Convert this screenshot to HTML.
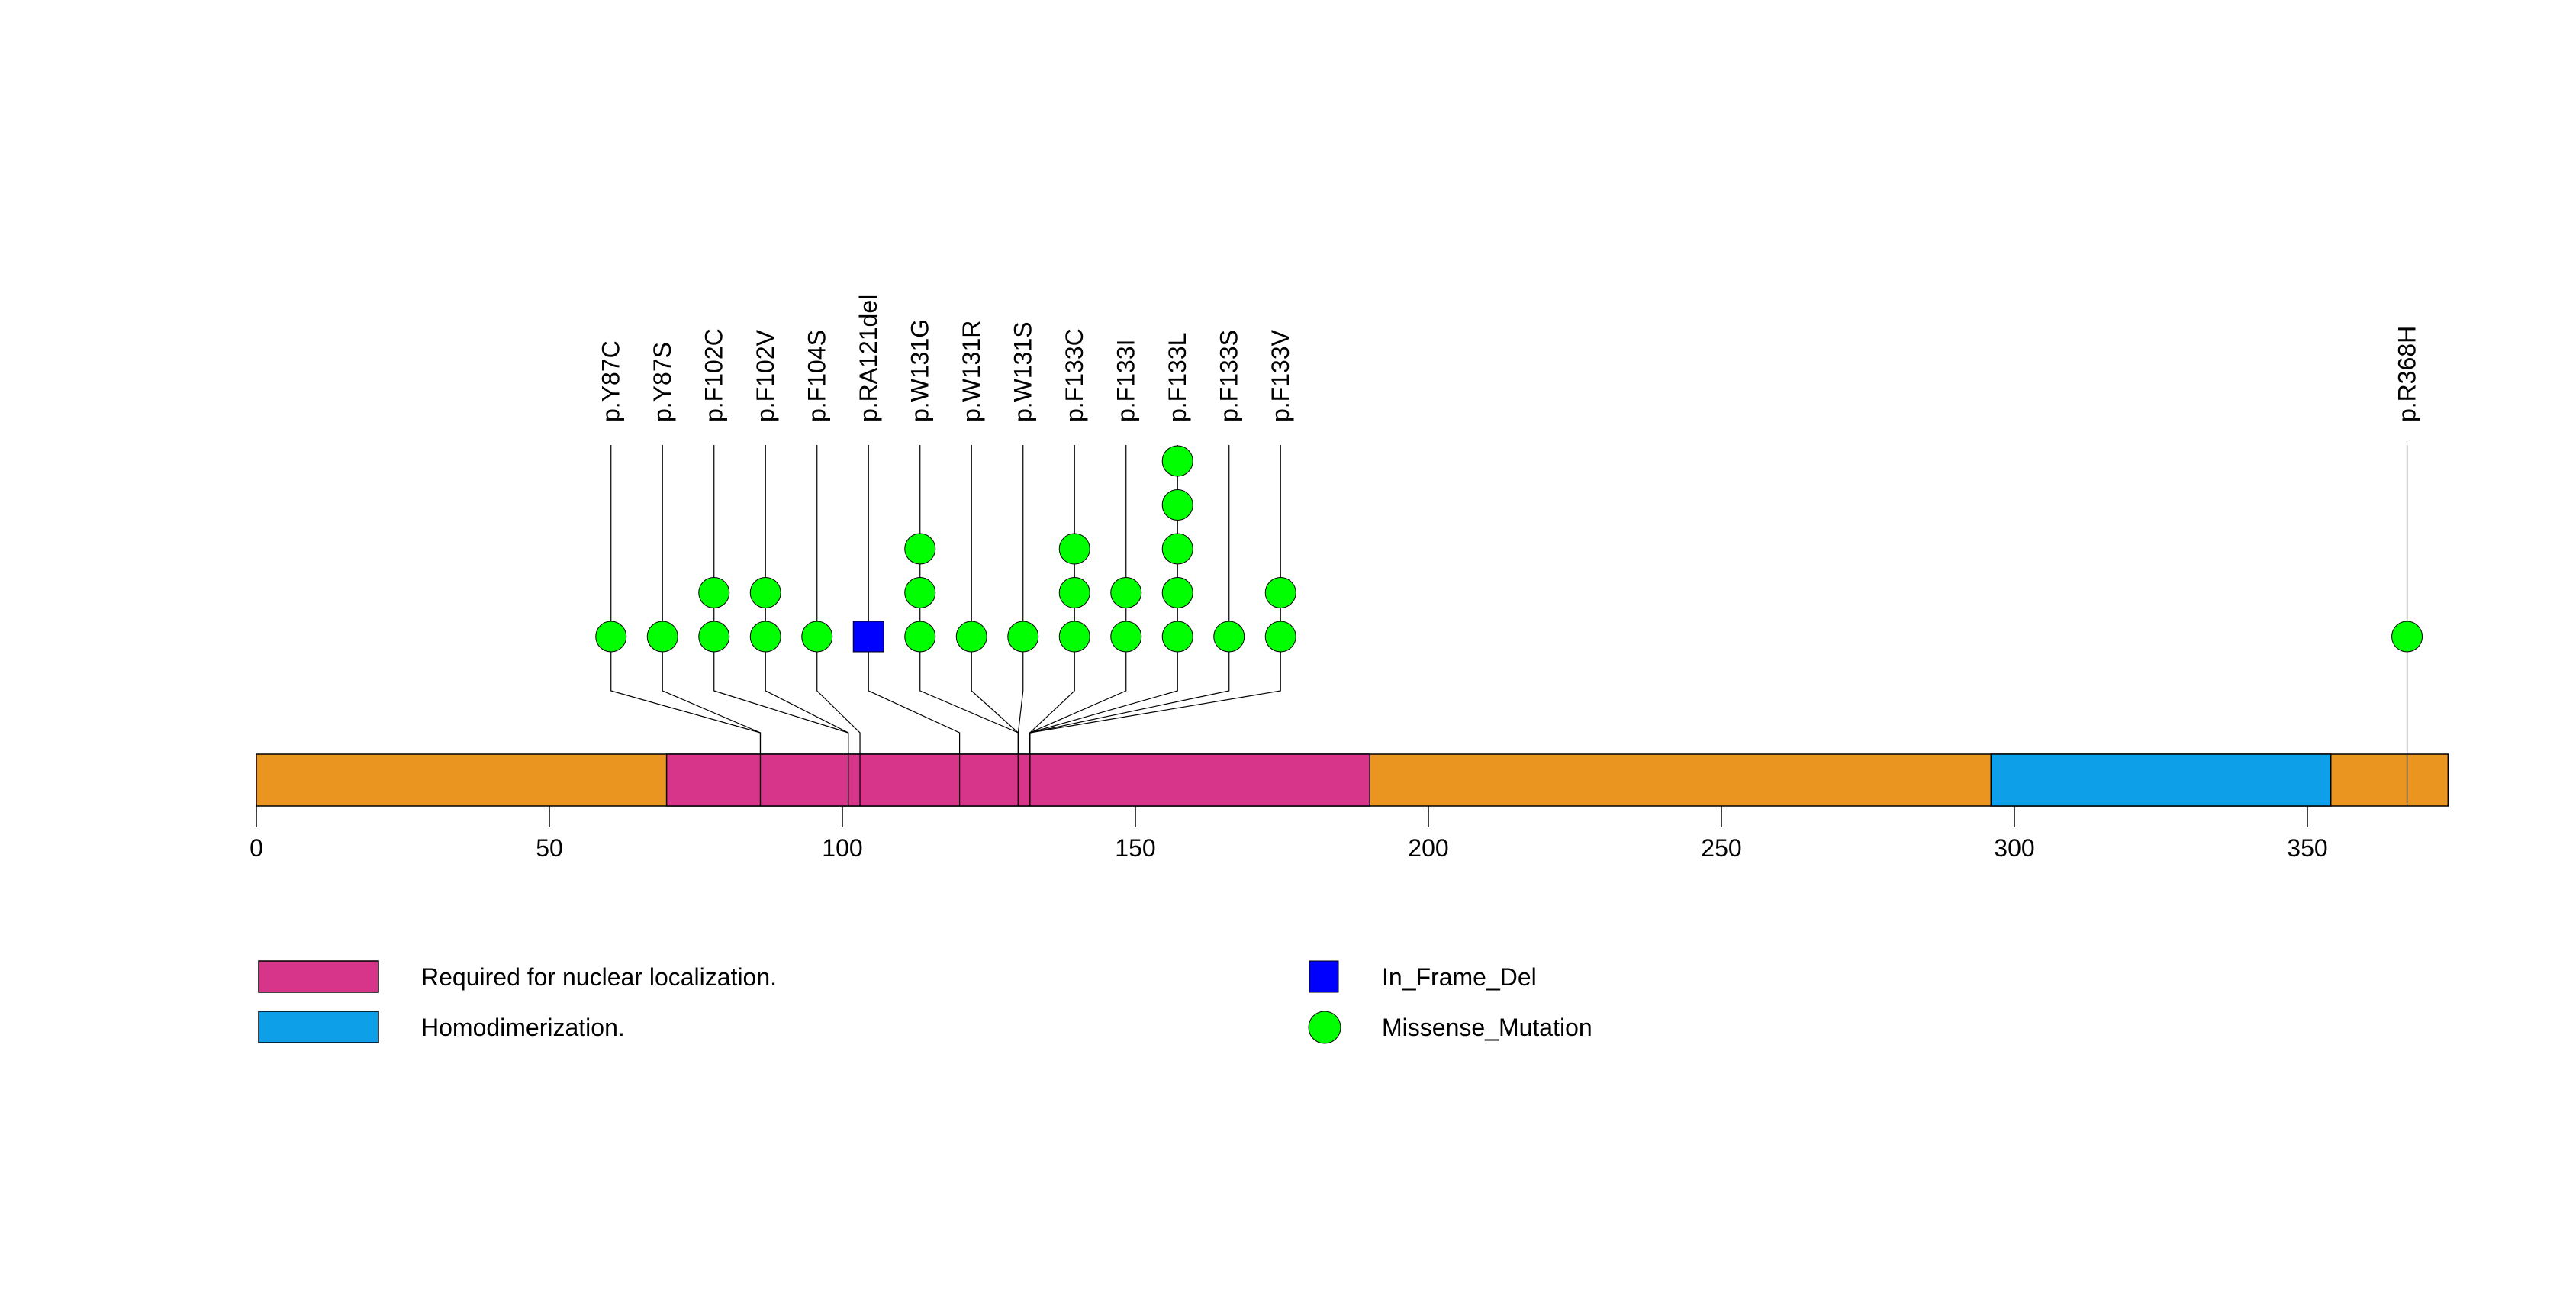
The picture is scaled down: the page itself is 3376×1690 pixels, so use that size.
<!DOCTYPE html>
<html><head><meta charset="utf-8"><style>
html,body{margin:0;padding:0;background:#fff;}
svg{display:block;font-family:"Liberation Sans",sans-serif;}
</style></head><body>
<svg id="chart" width="3376" height="1690" viewBox="0 0 3376 1690" xmlns="http://www.w3.org/2000/svg">
<rect width="3376" height="1690" fill="#fff"/>
<g id="g"></g>
</svg>
<script>
const proteinLength = 374;
const domainNames = ["Required for nuclear localization.", "Homodimerization."];
const domainStarts = [70, 296];
const domainEnds = [190, 354];
const domainColors = ["#D6358A", "#0D9FE8"];
const mutLabels = ["p.Y87C","p.Y87S","p.F102C","p.F102V","p.F104S","p.RA121del","p.W131G","p.W131R","p.W131S","p.F133C","p.F133I","p.F133L","p.F133S","p.F133V","p.R368H"];
const mutPositions = [87,87,102,102,104,121,131,131,131,133,133,133,133,133,368];
const mutCounts = [1,1,2,2,1,1,3,1,1,3,2,5,1,2,1];
const mutTypes = ["M","M","M","M","M","D","M","M","M","M","M","M","M","M","M"];
const tickValues = [0,50,100,150,200,250,300,350];

const NS="http://www.w3.org/2000/svg";
const g=document.getElementById('g');
const X0=336, UNIT=7.68;
const xs=v=>X0+v*UNIT;
const BAR_T=988, BAR_B=1056;
const ROW0=834, ROWSTEP=57.5, R=20;
const STEM_TOP=583, LABEL_Y=553, ELBOW1=905, ELBOW2=960, SPACING=67.5;
function el(t,a){const e=document.createElementNS(NS,t);for(const k in a)e.setAttribute(k,a[k]);g.appendChild(e);return e;}

let e=el('rect',{x:xs(0),y:BAR_T,width:xs(proteinLength)-xs(0),height:BAR_B-BAR_T,fill:'#E9951F',stroke:'#000','stroke-width':1.5});


domainStarts.forEach((s,i)=>{
  const d=el('rect',{x:xs(s),y:BAR_T,width:xs(domainEnds[i])-xs(s),height:BAR_B-BAR_T,fill:domainColors[i],stroke:'#000','stroke-width':1.5});
  
  
});
tickValues.forEach(t=>{
  const l=el('line',{x1:xs(t),x2:xs(t),y1:BAR_B,y2:1084,stroke:'#000','stroke-width':1.5});
  
  
  const tx=el('text',{x:xs(t),y:1122,'font-size':32,'text-anchor':'middle'});
  tx.textContent=t;
  
  
});
const real=mutPositions.map(p=>xs(p-1));
const layout=real.slice();
let groups=[],cur=[0];
for(let i=1;i<real.length;i++){ if(real[i]-real[i-1]<SPACING*3){cur.push(i);}else{groups.push(cur);cur=[i];} }
groups.push(cur);
groups.forEach(gr=>{
  const c=gr.reduce((a,i)=>a+real[i],0)/gr.length;
  gr.forEach((i,k)=>{layout[i]=c+(k-(gr.length-1)/2)*SPACING;});
});
mutLabels.forEach((lab,i)=>{
  const lx=layout[i], rx=real[i];
  const p=el('polyline',{points:`${lx},${STEM_TOP} ${lx},${ELBOW1} ${rx},${ELBOW2} ${rx},${BAR_B}`,fill:'none',stroke:'#000','stroke-width':1.2});
  
  
  const t=el('text',{x:lx,y:LABEL_Y,'font-size':32,'dominant-baseline':'central',transform:`rotate(-90 ${lx} ${LABEL_Y})`});
  t.textContent=lab;
  
  
  for(let k=0;k<mutCounts[i];k++){
    const cy=ROW0-k*ROWSTEP;
    let m;
    if(mutTypes[i]==="D"){ m=el('rect',{x:lx-R,y:cy-R,width:2*R,height:2*R,fill:'#0000FF',stroke:'#000','stroke-width':1});  }
    else { m=el('circle',{cx:lx,cy:cy,r:R,fill:'#00FF00',stroke:'#000','stroke-width':1});  }
    
  }
});
domainNames.forEach((n,i)=>{
  const y=1259+i*66;
  const r=el('rect',{x:339,y:y,width:157,height:41,fill:domainColors[i],stroke:'#000','stroke-width':1.5});
  
  
  const t=el('text',{x:552,y:y+21,'font-size':32,'dominant-baseline':'central'});
  t.textContent=n;
  
  
});
let s=el('rect',{x:1716,y:1259,width:38,height:41,fill:'#0000FF',stroke:'#000','stroke-width':1});


let t1=el('text',{x:1811,y:1280,'font-size':32,'dominant-baseline':'central'});t1.textContent='In_Frame_Del';


let c=el('circle',{cx:1736,cy:1346,r:21,fill:'#00FF00',stroke:'#000','stroke-width':1});


let t2=el('text',{x:1811,y:1346,'font-size':32,'dominant-baseline':'central'});t2.textContent='Missense_Mutation';


</script>
</body></html>
